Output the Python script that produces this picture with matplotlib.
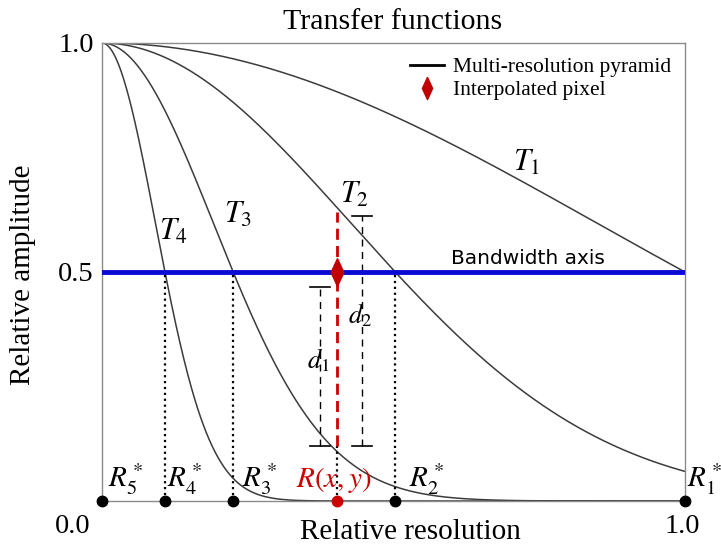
import numpy as np
import matplotlib
matplotlib.use("Agg")
import matplotlib.pyplot as plt
from matplotlib.lines import Line2D

plt.rcParams['font.family'] = ['Liberation Serif', 'DejaVu Serif']
plt.rcParams['mathtext.fontset'] = 'stix'

# half-amplitude resolutions R_k* (R5* = 0 is the origin)
r_star = [1.0, 0.503, 0.225, 0.108, 0.0]
curve_names = ['$T_1$', '$T_2$', '$T_3$', '$T_4$']
curve_label_xy = [(0.729, 0.738), (0.434, 0.668), (0.233, 0.624), (0.122, 0.587)]
r_names = ['$R_1^*$', '$R_2^*$', '$R_3^*$', '$R_4^*$', '$R_5^*$']
r_label_x = [1.003, 0.527, 0.24, 0.111, 0.01]

# interpolated pixel and distance markers
r_xy = 0.403
r_top = 0.631
d1_x, d1_lo, d1_hi = 0.374, 0.12, 0.467
d2_x, d2_lo, d2_hi = 0.446, 0.12, 0.622
bandwidth = 0.5

diamond = [(0, 1), (0.46, 0), (0, -1), (-0.46, 0), (0, 1)]

fig = plt.figure(figsize=(7.21, 5.46), dpi=100)
ax = fig.add_axes([102/721, 1-501/546, 583/721, 458/546])

x = np.linspace(0, 1, 600)
for r in r_star[:4]:
    ax.plot(x, np.exp(-np.log(2)*(x/r)**2), color='#3c3c3c', lw=1.1)

ax.axhline(bandwidth, color='#0a0ad2', lw=3.5, zorder=3)
ax.text(0.731, 0.53, 'Bandwidth axis', family='DejaVu Sans', fontsize=14.5,
        ha='center', va='center')

for (tx, ty), name in zip(curve_label_xy, curve_names):
    ax.text(tx, ty, name, fontsize=22, ha='center', va='center')

# dotted drops from bandwidth axis
for r in r_star[1:4]:
    ax.plot([r, r], [0, bandwidth], color='black', ls=':', lw=1.6, zorder=2)
ax.plot([r_xy, r_xy], [0, 0.12], color='black', ls=':', lw=1.6, zorder=2)

# distance bars
for dx, lo, hi in [(d1_x, d1_lo, d1_hi), (d2_x, d2_lo, d2_hi)]:
    ax.plot([dx, dx], [lo, hi], color='black', ls=(0, (5, 4)), lw=1)
    ax.plot([dx-0.017, dx+0.017], [lo, lo], color='black', lw=1.2)
    ax.plot([dx-0.017, dx+0.017], [hi, hi], color='black', lw=1.2)
ax.text(0.371, 0.308, '$d_1$', fontsize=19, ha='center', va='center')
ax.text(0.443, 0.406, '$d_2$', fontsize=19, ha='center', va='center')

ax.plot([r_xy, r_xy], [0.12, r_top], color='#cc0000', ls=(0, (4, 2.2)), lw=2, zorder=4)
ax.plot(r_xy, bandwidth, marker=diamond, color='#c00000', ms=20, zorder=5)

# resolution points on the x axis
ax.plot(r_star, [0]*len(r_star), 'o', color='black', ms=7.5, clip_on=False, zorder=6)
ax.plot(r_xy, 0, 'o', color='#cc0000', ms=7.5, clip_on=False, zorder=6)
for rx, name in zip(r_label_x, r_names):
    ax.text(rx, 0.03, name, fontsize=21, ha='left', va='baseline', clip_on=False)
ax.text(0.333, 0.03, '$R(x,y)$', fontsize=21, color='#cc0000', ha='left', va='baseline')

ax.set_xlim(0, 1)
ax.set_ylim(0, 1)
ax.set_xticks([])
ax.set_yticks([0.5, 1.0])
ax.set_yticklabels(['0.5', '1.0'], fontsize=20.5)
ax.tick_params(axis='y', length=0, pad=6)
for s in ax.spines.values():
    s.set_color('#8a8a8a')
    s.set_linewidth(1)

ax.text(-0.05, -0.055, '0.0', fontsize=20.5, ha='center', va='center')
ax.text(0.995, -0.055, '1.0', fontsize=20.5, ha='center', va='center')

fig.text(393/721, 1-22/546, 'Transfer functions', fontsize=21.5, ha='center', va='center')
fig.text(23/721, 1-275/546, 'Relative amplitude', fontsize=21, rotation=90,
         ha='center', va='center')
fig.text(410/721, 1-532/546, 'Relative resolution', fontsize=21, ha='center', va='center')

handles = [Line2D([], [], color='black', lw=2),
           Line2D([], [], color='#c00000', marker=diamond, ls='none', ms=16)]
ax.legend(handles, ['Multi-resolution pyramid', 'Interpolated pixel'], loc='upper right',
          frameon=False, fontsize=15.5, handlelength=1.6, handletextpad=0.4,
          labelspacing=0.15, borderaxespad=0.25)

fig.savefig('out.png', dpi=100)
